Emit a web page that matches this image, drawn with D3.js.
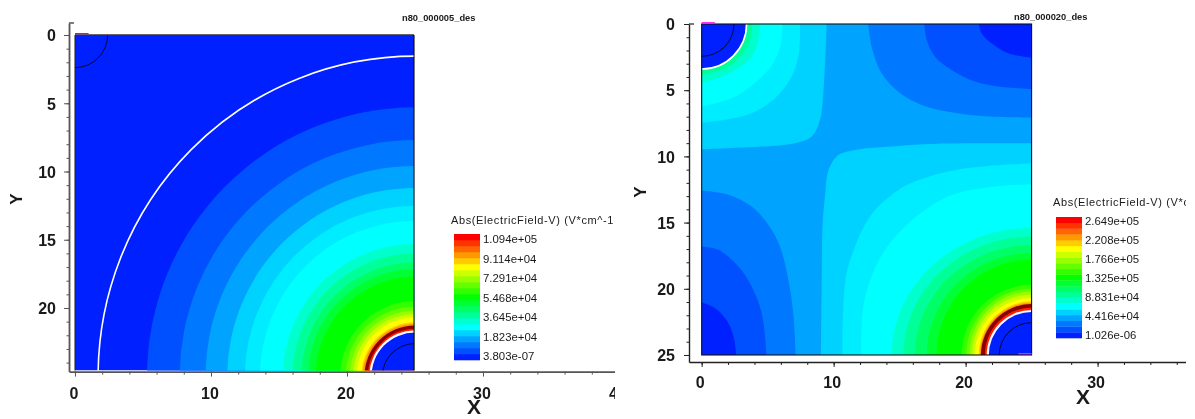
<!DOCTYPE html>
<html><head><meta charset="utf-8">
<script src="https://cdn.jsdelivr.net/npm/d3@7"></script>
<style>
html,body{margin:0;padding:0;background:#fff}
svg{display:block}
text{font-family:"Liberation Sans",Arimo,sans-serif;fill:#1a1a1a;filter:blur(.3px)}
</style></head><body>
<svg id="c" width="1195" height="419"></svg>
<script>
// ---- shared data ----
const legendColors = ["#0020ff","#0050ff","#0078ff","#00a4ff","#00d2ff","#00ffff","#00ffcc","#00ff99","#00ff66","#00ff33","#00ff00","#33ff00","#66ff00","#99ff00","#ccff00","#ffff00","#ffcc00","#ff9900","#ff6600","#ff3300","#ff0000"];
const leftXMajor = [0,10,20,30,40];
const leftYMajor = [0,5,10,15,20];
const rightXMajor = [0,10,20,30];
const rightYMajor = [0,5,10,15,20,25];
const leftXMinor = d3.range(0,42,2);
const leftYMinor = d3.range(0,25,1);
const rightXMinor = d3.range(0,37,2);
const rightYMinor = d3.range(0,26,1);

// ---- left panel: concentric bands around (25,25) ----
const leftTitle = "n80_000005_des";
const leftLegendTitle = "Abs(ElectricField-V) (V*cm^-1";
const leftLegendLabels = ["1.094e+05","9.114e+04","7.291e+04","5.468e+04","3.645e+04","1.823e+04","3.803e-07"];
const leftBandRadii  = [19.7,17.3,15.4,13.8,12.5,11.4,9.7,9.0,8.35,7.85,7.3,5.5,5.1,4.8,4.55,4.3,3.95,3.85,3.72,3.48,3.36,3.2];
const leftBandColors = ["#0050ff","#0078ff","#00a4ff","#00d2ff","#00ecff","#00ffff","#00ffcc","#00ff99","#00ff66","#00ff33","#00ff00","#33ff00","#66ff00","#99ff00","#ccff00","#ffff00","#ffcc00","#ff9900","#8b0000","#ff2000","#ffffff","#0020ff"];
const leftOuterRing = [23.3,23.45];
const leftSmallRing = 2.4;

// ---- right panel: contour boundaries, [x,y] in axis units ----
const rightTitle = "n80_000020_des";
const rightLegendTitle = "Abs(ElectricField-V) (V*cm^-1";
const rightLegendLabels = ["2.649e+05","2.208e+05","1.766e+05","1.325e+05","8.831e+04","4.416e+04","1.026e-06"];
const tlD2 = [[9.47,0],[9.22,5.23],[8.96,7.25],[8.33,8.5],[7.07,9],[4.55,9.26],[2.02,9.38],[0,9.46]];
const tlEc = [[7.45,0],[7.37,2.21],[6.82,3.97],[5.56,5.61],[3.79,6.74],[2.02,7.19],[0,7.45]];
const tlFf = [[6.11,0],[6.01,1.46],[5.43,2.97],[4.29,4.23],[2.78,5.36],[1.26,5.94],[0,6.19]];
const tlCc = [[4.42,0],[4.29,1.21],[3.79,2.47],[2.78,3.35],[1.52,3.97],[0.5,4.3],[0,4.43]];
const tl99 = [[3.84,0],[3.66,1.21],[3.03,2.34],[2.02,3.22],[1.01,3.6],[0,3.85]];
const tr78 = [[12.63,0],[12.88,1.71],[13.64,3.72],[14.9,5.11],[16.67,6.11],[18.69,6.62],[21.21,6.94],[25,7.07]];
const tr50 = [[16.87,0],[17.05,1.21],[17.68,2.47],[18.94,3.47],[20.71,4.35],[22.48,4.73],[25,4.91]];
const tr20 = [[21.01,0],[21.21,0.7],[21.97,1.46],[23.23,2.21],[25,2.54]];
const bl78 = [[0,12.58],[2.02,12.9],[3.79,13.79],[5.05,15.17],[5.93,16.8],[6.57,19.32],[6.94,21.84],[7.12,25]];
const bl50 = [[0,16.8],[1.26,17.06],[2.78,18.31],[3.79,19.82],[4.55,21.84],[4.92,25]];
const bl20 = [[0,21.03],[1.01,21.46],[2.02,22.59],[2.47,23.85],[2.6,25]];
const brD2 = [[9.04,25],[9.09,20.07],[9.17,15.04],[9.39,12.53],[9.47,11.65],[9.72,10.77],[10.35,9.89],[11.62,9.51],[14.9,9.21],[17.42,9.06],[21.21,9.01],[25,9.01]];
const brEc = [[10.66,25],[10.73,21.33],[10.98,18.82],[11.62,16.8],[12.37,15.17],[13.13,14.04],[14.9,12.53],[16.16,11.9],[18.69,11.14],[21.21,10.77],[25,10.52]];
const brFf = [[12.07,25],[12.1,23],[12.3,21],[12.9,19],[13.8,17.2],[15.1,15.6],[17,14],[19,12.9],[22,12.3],[25,12.1]];
const rightRingRx = [10.6,9.7,8.84,7.95,7.2,5.3,4.95,4.7,4.5,4.3,4.0,3.92,3.84,3.54,3.4,3.24];
const rightRingRy = [9.6,8.95,8.3,7.7,7.2,5.3,5.0,4.8,4.55,4.3,4.05,3.95,3.85,3.58,3.4,3.24];
const rightRingColors = ["#00ffcc","#00ff99","#00ff66","#00ff33","#00ff00","#33ff00","#66ff00","#99ff00","#ccff00","#ffff00","#ffcc00","#ff9900","#8b0000","#ff2000","#ffffff","#0020ff"];
const rightSmallRing = 2.45;
const tlWhite = 3.4;

const svg = d3.select("#c");
const defs = svg.append("defs");
defs.append("clipPath").attr("id","leftClip").append("rect").attr("width",615).attr("height",419);
defs.append("clipPath").attr("id","rightClip").append("rect").attr("x",620).attr("width",566).attr("height",419);

function axes(g,x,y,o){
  const xa=g.append("g").attr("transform",`translate(0,${o.axisY})`).style("color",o.axisColor);
  xa.call(d3.axisBottom(x).tickValues(o.xMinor).tickSize(3).tickSizeOuter(0).tickFormat(""));
  xa.select(".domain").attr("stroke-width",o.axisWidth);
  const xm=xa.append("g").call(d3.axisBottom(x).tickValues(o.xMajor).tickSize(5).tickSizeOuter(0).tickFormat(d3.format("d")));
  xm.select(".domain").remove();
  xa.selectAll("text").attr("font-size",16).attr("font-weight",600).attr("y",o.xLabelDy).attr("dy",0).attr("dx",o.xLabelDx).style("fill","#1a1a1a");
  const ya=g.append("g").attr("transform",`translate(${o.axisX},0)`).style("color",o.axisColor);
  ya.call(d3.axisLeft(y).tickValues(o.yMinor).tickSize(2.5).tickSizeOuter(0).tickFormat(""));
  ya.select(".domain").attr("stroke-width",o.axisWidth);
  const ym=ya.append("g").call(d3.axisLeft(y).tickValues(o.yMajor).tickSize(5).tickSizeOuter(0).tickFormat(d3.format("d")));
  ym.select(".domain").remove();
  ya.selectAll("text").attr("font-size",16).attr("font-weight",600).attr("x",o.yLabelX).attr("dy","0.36em").style("fill","#1a1a1a");
}
function legend(g,o){
  const ly=d3.scaleBand().domain(d3.range(legendColors.length)).range([o.bottom,o.top]);
  g.selectAll("rect.lg").data(legendColors).join("rect").attr("class","lg")
    .attr("x",o.x).attr("width",o.w).attr("y",(d,i)=>ly(i)).attr("height",ly.bandwidth()+.3).attr("fill",d=>d);
  const lp=d3.scalePoint().domain(d3.range(o.labels.length)).range([o.labelTop,o.labelBottom]);
  g.selectAll("text.ll").data(o.labels).join("text").attr("class","ll")
    .attr("x",o.x+o.w+3).attr("y",(d,i)=>lp(i)).attr("dy","0.36em").attr("font-size",11.4).text(d=>d);
  g.append("text").attr("x",o.titleX).attr("y",o.titleY).attr("font-size",11).attr("letter-spacing",0.62).text(o.title);
}
function frameRect(g,x,y,x0,y0,x1,y1){
  return g.append("rect").attr("x",x(x0)).attr("y",y(y0)).attr("width",x(x1)-x(x0)).attr("height",y(y1)-y(y0));
}

// ===== LEFT =====
(function(){
  const g=svg.append("g").attr("clip-path","url(#leftClip)");
  const x=d3.scaleLinear().domain([-0.44,40]).range([69,619]);
  const y=d3.scaleLinear().domain([-0.88,24.66]).range([23,371.6]);
  const xEnd=24.93,yEnd=24.58;
  const rx=r=>x(r)-x(0), ry=r=>y(r)-y(0);
  defs.append("clipPath").attr("id","lp").call(s=>frameRect(s,x,y,0,0,xEnd,yEnd));
  const plot=g.append("g").attr("clip-path","url(#lp)");
  frameRect(plot,x,y,0,0,xEnd,yEnd).attr("fill","#0020ff");
  plot.append("ellipse").attr("cx",x(25)).attr("cy",y(25)).attr("rx",rx(leftOuterRing[0])).attr("ry",ry(leftOuterRing[1])).attr("fill","none").attr("stroke","#fff").attr("stroke-width",1.6);
  plot.selectAll("ellipse.b").data(leftBandRadii).join("ellipse").attr("class","b")
    .attr("cx",x(25)).attr("cy",y(25)).attr("rx",d=>rx(d)).attr("ry",d=>ry(d)).attr("fill",(d,i)=>leftBandColors[i]);
  plot.append("circle").attr("cx",x(25)).attr("cy",y(25)).attr("r",rx(leftSmallRing)).attr("fill","none").attr("stroke","#000").attr("stroke-width",.8);
  plot.append("circle").attr("cx",x(0)).attr("cy",y(0)).attr("r",rx(leftSmallRing)).attr("fill","none").attr("stroke","#000").attr("stroke-width",.8);
  const seg=d3.line().x(d=>x(d[0])).y(d=>y(d[1]));
  g.append("path").attr("d",seg([[0,0],[xEnd,0]])).attr("stroke","#333").attr("stroke-width",1.5);
  g.append("path").attr("d",seg([[xEnd,0],[xEnd,yEnd]])).attr("stroke","#000").attr("stroke-width",1);
  g.append("path").attr("d",seg([[0,0],[0,yEnd]])).attr("stroke","#222").attr("stroke-width",1);
  g.append("path").attr("d",seg([[0,-0.1],[1,-0.1]])).attr("stroke","#c800c0").attr("stroke-width",1.2);
  axes(g,x,y,{axisY:371.6,axisX:69,axisColor:"#555",axisWidth:1.8,xLabelDy:27,xLabelDx:-1.5,yLabelX:-13,xMajor:leftXMajor,xMinor:leftXMinor,yMajor:leftYMajor,yMinor:leftYMinor});
  g.append("path").attr("d",d3.line()([[69,23],[74,23]])).attr("stroke","#555").attr("stroke-width",1.5);
  legend(g,{x:454,w:26,top:234,bottom:360,labels:leftLegendLabels,labelTop:239,labelBottom:356,title:leftLegendTitle,titleX:451,titleY:224});
  g.append("text").attr("x",402).attr("y",21).attr("font-size",9.3).attr("font-weight",700).text(leftTitle);
  g.append("text").attr("x",474).attr("y",414).attr("text-anchor","middle").attr("font-size",21).attr("font-weight",700).text("X");
  g.append("text").attr("transform","translate(22,199) rotate(-90)").attr("text-anchor","middle").attr("font-size",17).attr("font-weight",700).text("Y");
})();

// ===== RIGHT =====
(function(){
  const g=svg.append("g").attr("clip-path","url(#rightClip)");
  const x=d3.scaleLinear().domain([-0.96,36.7]).range([689,1186]);
  const y=d3.scaleLinear().domain([0,25.53]).range([24,362]);
  const rx=r=>x(r)-x(0), ry=r=>y(r)-y(0);
  defs.append("clipPath").attr("id","rp").call(s=>frameRect(s,x,y,0,0,25,25));
  const xClip=g.append("g").attr("clip-path","url(#rp)");
  frameRect(xClip,x,y,0,0,25,25).attr("fill","#00a4ff");
  const smooth=d3.line().x(d=>x(d[0])).y(d=>y(d[1])).curve(d3.curveCatmullRom);
  const region=(pts,corner,color)=>xClip.append("path").attr("d",smooth(pts)+"L"+x(corner[0])+","+y(corner[1])+"Z").attr("fill",color);
  [[brD2,"#00d2ff"],[brEc,"#00ecff"],[brFf,"#00ffff"]].forEach(([p,c])=>region(p,[25,25],c));
  xClip.selectAll("ellipse.b").data(rightRingRx).join("ellipse").attr("class","b")
    .attr("cx",x(25)).attr("cy",y(25)).attr("rx",d=>rx(d)).attr("ry",(d,i)=>ry(rightRingRy[i])).attr("fill",(d,i)=>rightRingColors[i]);
  [[tlD2,"#00d2ff"],[tlEc,"#00ecff"],[tlFf,"#00ffff"],[tlCc,"#00ffcc"],[tl99,"#00ff99"]].forEach(([p,c])=>region(p,[0,0],c));
  [[tr78,"#0078ff"],[tr50,"#0050ff"],[tr20,"#0020ff"]].forEach(([p,c])=>region(p,[25,0],c));
  [[bl78,"#0078ff"],[bl50,"#0050ff"],[bl20,"#0020ff"]].forEach(([p,c])=>region(p,[0,25],c));
  xClip.append("ellipse").attr("cx",x(0)).attr("cy",y(0)).attr("rx",rx(tlWhite)).attr("ry",ry(tlWhite)).attr("fill","#0020ff").attr("stroke","#fff").attr("stroke-width",1.6);
  xClip.append("circle").attr("cx",x(0)).attr("cy",y(0)).attr("r",rx(rightSmallRing)).attr("fill","none").attr("stroke","#000").attr("stroke-width",.8);
  xClip.append("circle").attr("cx",x(25)).attr("cy",y(25)).attr("r",rx(rightSmallRing)).attr("fill","none").attr("stroke","#000").attr("stroke-width",.8);
  frameRect(g,x,y,0,0,25,25).attr("fill","none").attr("stroke","#111").attr("stroke-width",1.1);
  const seg=d3.line().x(d=>x(d[0])).y(d=>y(d[1]));
  g.append("path").attr("d",seg([[0,-0.1],[1,-0.1]])).attr("stroke","#ff20e0").attr("stroke-width",1.2);
  g.append("path").attr("d",seg([[24,24.9],[25,24.9]])).attr("stroke","#ff20e0").attr("stroke-width",1.2);
  axes(g,x,y,{axisY:362,axisX:689,axisColor:"#222",axisWidth:1.4,xLabelDy:26,xLabelDx:-2,yLabelX:-14,xMajor:rightXMajor,xMinor:rightXMinor,yMajor:rightYMajor,yMinor:rightYMinor});
  g.append("path").attr("d",d3.line()([[689,24],[694,24]])).attr("stroke","#222").attr("stroke-width",1.2);
  legend(g,{x:1056,w:26,top:217,bottom:338,labels:rightLegendLabels,labelTop:221,labelBottom:335,title:rightLegendTitle,titleX:1053,titleY:206});
  g.append("text").attr("x",1014).attr("y",20).attr("font-size",9.3).attr("font-weight",700).text(rightTitle);
  g.append("text").attr("x",1083).attr("y",404).attr("text-anchor","middle").attr("font-size",21).attr("font-weight",700).text("X");
  g.append("text").attr("transform","translate(646,192) rotate(-90)").attr("text-anchor","middle").attr("font-size",17).attr("font-weight",700).text("Y");
})();
</script>
</body></html>
